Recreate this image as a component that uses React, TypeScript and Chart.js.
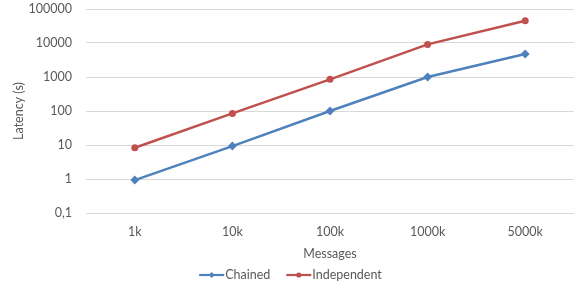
import React, { useEffect, useRef } from "react";
import { Chart, registerables } from "chart.js";

Chart.register(...registerables);

const categories = ["1k", "10k", "100k", "1000k", "5000k"];
const chainedValues = [0.93, 9.3, 100, 1000, 4750];
const independentValues = [8.3, 85, 855, 9100, 45000];
const yTickValues = [0.1, 1, 10, 100, 1000, 10000, 100000];
const yTickLabels = ["0,1", "1", "10", "100", "1000", "10000", "100000"];

const FONT = "Lato, 'Open Sans', sans-serif";
const TEXT = "#595959";

const legendPlugin = {
  id: "lineLegend",
  afterDraw(chart: any) {
    const ctx = chart.ctx;
    const ds = chart.data.datasets;
    ctx.save();
    ctx.font = `12.5px ${FONT}`;
    ctx.textBaseline = "middle";
    const y = 275;
    const lineLen = 25;
    const gapAfterLine = 1;
    const gapBetween = 16;
    const widths = ds.map((d: any) => lineLen + gapAfterLine + ctx.measureText(d.label).width);
    const total = widths.reduce((a: number, b: number) => a + b, 0) + gapBetween * (ds.length - 1);
    let x = (chart.width - total) / 2 - 1;
    ds.forEach((d: any, i: number) => {
      ctx.strokeStyle = d.borderColor;
      ctx.lineWidth = 2.2;
      ctx.beginPath();
      ctx.moveTo(x, y);
      ctx.lineTo(x + lineLen, y);
      ctx.stroke();
      ctx.fillStyle = d.borderColor;
      const cx = x + lineLen / 2;
      ctx.beginPath();
      if (d.pointStyle === "rectRot") {
        ctx.moveTo(cx, y - 3);
        ctx.lineTo(cx + 3, y);
        ctx.lineTo(cx, y + 3);
        ctx.lineTo(cx - 3, y);
        ctx.closePath();
      } else {
        ctx.arc(cx, y, 2.6, 0, Math.PI * 2);
      }
      ctx.fill();
      ctx.fillStyle = TEXT;
      ctx.textAlign = "left";
      ctx.fillText(d.label, x + lineLen + gapAfterLine, y);
      x += widths[i] + gapBetween;
    });
    ctx.restore();
  },
};

export default function App() {
  const ref = useRef<HTMLCanvasElement>(null);
  useEffect(() => {
    document.body.style.margin = "0";
    const chart = new Chart(ref.current!, {
      type: "line",
      data: {
        labels: categories,
        datasets: [
          {
            label: "Chained",
            data: chainedValues,
            borderColor: "#4F81BD",
            backgroundColor: "#4F81BD",
            borderWidth: 2.5,
            pointStyle: "rectRot",
            pointRadius: 4.5,
            pointBorderWidth: 0,
            tension: 0,
          },
          {
            label: "Independent",
            data: independentValues,
            borderColor: "#C0504D",
            backgroundColor: "#C0504D",
            borderWidth: 2.5,
            pointStyle: "circle",
            pointRadius: 3.5,
            pointBorderWidth: 0,
            tension: 0,
          },
        ],
      },
      options: {
        animation: false,
        responsive: false,
        layout: { padding: { top: 9, left: 0, right: 9, bottom: 27 } },
        plugins: { legend: { display: false }, tooltip: { enabled: false } },
        scales: {
          x: {
            offset: true,
            grid: { display: false },
            border: { display: false },
            ticks: { color: TEXT, font: { family: FONT, size: 12.5 }, padding: 3 },
            title: {
              display: true,
              text: "Messages",
              color: TEXT,
              font: { family: FONT, size: 12.5 },
              padding: { top: 6, bottom: 0 },
            },
            afterFit(scale: any) {
              scale.height = 48;
            },
          },
          y: {
            type: "logarithmic",
            min: 0.1,
            max: 100000,
            grid: { color: "#D9D9D9", drawTicks: false, lineWidth: 1 },
            border: { display: false },
            afterBuildTicks(scale: any) {
              scale.ticks = yTickValues.map((v) => ({ value: v }));
            },
            ticks: {
              color: TEXT,
              font: { family: FONT, size: 12.5 },
              padding: 14,
              autoSkip: false,
              callback: (v: any) => {
                const i = yTickValues.indexOf(Number(v));
                return i >= 0 ? yTickLabels[i] : "";
              },
            },
            title: {
              display: true,
              text: "Latency (s)",
              color: TEXT,
              font: { family: FONT, size: 12.5 },
              padding: { top: 11, bottom: 0 },
            },
            afterFit(scale: any) {
              scale.width = 86;
              scale.paddingTop = 0;
              scale.paddingBottom = 0;
            },
          },
        },
      },
      plugins: [legendPlugin],
    });
    return () => chart.destroy();
  }, []);
  return <canvas ref={ref} width={583} height={288} style={{ display: "block" }} />;
}
